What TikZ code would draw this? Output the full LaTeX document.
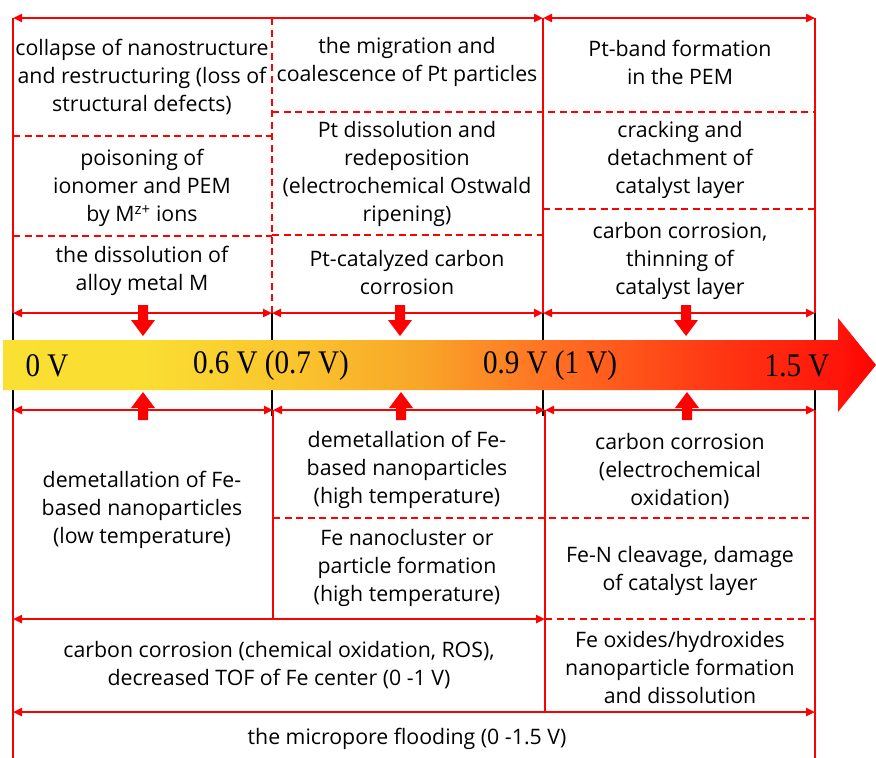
\documentclass[tikz,border=0pt]{standalone}
\usepackage{fontspec}
\setmainfont{Open Sans}
\newfontfamily\voltfont{Liberation Serif}
\usetikzlibrary{arrows.meta}
\definecolor{vA}{RGB}{250,224,50}
\definecolor{vB}{RGB}{250,222,50}
\definecolor{vC}{RGB}{250,195,45}
\definecolor{vD}{RGB}{248,165,40}
\definecolor{vE}{RGB}{255,115,35}
\definecolor{vF}{RGB}{255,60,20}
\definecolor{vG}{RGB}{255,20,10}
\definecolor{vH}{RGB}{255,0,0}
\pgfdeclarehorizontalshading{voltshade}{100bp}{color(0bp)=(vA); color(25bp)=(vA); color(33bp)=(vB); color(42bp)=(vC); color(49bp)=(vD); color(56bp)=(vE); color(65bp)=(vF); color(73bp)=(vG); color(75bp)=(vH); color(100bp)=(vH)}
\tikzset{
  solidred/.style={draw=red, line width=2.6pt},
  dashred/.style={draw=red, line width=1.6pt, dash pattern=on 7pt off 4.5pt},
  dblarrow/.style={draw=red, line width=2.6pt, {Triangle[length=9pt,width=8pt]}-{Triangle[length=9pt,width=8pt]}},
  blacktick/.style={draw=black, line width=1.1pt},
  txt/.style={font=\fontsize{21.3}{28}\selectfont, align=center, inner sep=0pt, text=black},
  volt/.style={font=\voltfont\fontsize{33}{34}\selectfont, inner sep=0pt, text=black, xscale=0.88},
  downblk/.pic={\fill[red] (0,0) -- (-12,-16) -- (-5,-16) -- (-5,-31) -- (5,-31) -- (5,-16) -- (12,-16) -- cycle;},
  upblk/.pic={\fill[red] (0,0) -- (-12,16) -- (-5,16) -- (-5,28) -- (5,28) -- (5,16) -- (12,16) -- cycle;}
}
\begin{document}
\begin{tikzpicture}[x=1pt,y=-1pt]
\useasboundingbox (0,0) rectangle (876,758);
\fill[white] (0,0) rectangle (876,758);

% named grid coordinates
\coordinate (TA) at (13,18);  \coordinate (TB) at (272,18);
\coordinate (TC) at (543,18); \coordinate (TD) at (815,18);
\coordinate (MA) at (13,313); \coordinate (MB) at (272,313);
\coordinate (MC) at (543,313); \coordinate (MD) at (815,313);
\coordinate (NA) at (13,410); \coordinate (NB) at (273,410);
\coordinate (NC) at (545,410); \coordinate (ND) at (815,410);

% black ticks
\foreach \xx in {13,272,543,815} {
  \draw[blacktick] (\xx,313) -- (\xx,342);
  \draw[blacktick] (\xx,388) -- (\xx,416);
}

% ---------- top section ----------
\draw[solidred] (TA) -- (MA);
\draw[solidred] (TC) -- (MC);
\draw[solidred] (TD) -- (MD);
\draw[dashred] (TB) -- (MB);
\draw[dblarrow] (TA) -- (TC);
\draw[dblarrow] (TC) -- (TD);
\draw[dashred] (13,136) -- (272,136);
\draw[dashred] (13,236) -- (272,236);
\draw[dashred] (272,112) -- (815,112);
\draw[dashred] (272,235) -- (543,235);
\draw[dashred] (543,209) -- (815,209);
\draw[dblarrow] (MA) -- (MB);
\draw[dblarrow] (MB) -- (MC);
\draw[dblarrow] (MC) -- (MD);

% ---------- voltage bar ----------
\shade[shading=voltshade] (3,340) -- (838,340) -- (838,318) -- (876,365) -- (838,412) -- (838,390) -- (3,390) -- cycle;
\node[volt] (v0) at (47,366) {0 V};
\node[volt] (v06) at (271,366) {0.6 V (0.7 V)};
\node[volt] (v09) at (550,366) {0.9 V (1 V)};
\node[volt] (v15) at (797,366) {1.5 V};

\pic at (143,336) {downblk};
\pic at (400,336) {downblk};
\pic at (686,336) {downblk};
\pic at (143,392) {upblk};
\pic at (401,392) {upblk};
\pic at (687,392) {upblk};

% ---------- bottom section ----------
\draw[solidred] (NA) -- (13,758);
\draw[solidred] (ND) -- (815,758);
\draw[solidred] (NB) -- (273,619);
\draw[solidred] (NC) -- (545,712);
\draw[dblarrow] (NA) -- (NB);
\draw[dblarrow] (NB) -- (NC);
\draw[dblarrow] (NC) -- (ND);
\draw[dashred] (273,518) -- (815,518);
\draw[dashred] (545,619) -- (815,619);
\draw[dblarrow] (13,619) -- (545,619);
\draw[dblarrow] (13,712) -- (815,712);

% ---------- texts top ----------
\node[txt] (t11) at (142,77) {collapse of nanostructure\\and restructuring (loss of\\structural defects)};
\node[txt] (t12) at (142,188) {poisoning of\\ionomer and PEM\\by M\textsuperscript{z+} ions};
\node[txt] (t13) at (142,271) {the dissolution of\\alloy metal M};
\node[txt] (t21) at (407,62) {the migration and\\coalescence of Pt particles};
\node[txt] (t22) at (407,174) {Pt dissolution and\\redeposition\\(electrochemical Ostwald\\ripening)};
\node[txt] (t23) at (407,273) {Pt-catalyzed carbon\\corrosion};
\node[txt] (t31) at (680,62) {Pt-band formation\\in the PEM};
\node[txt] (t32) at (680,160) {cracking and\\detachment of\\catalyst layer};
\node[txt] (t33) at (680,261) {carbon corrosion,\\thinning of\\catalyst layer};

% ---------- texts bottom ----------
\node[txt] (b11) at (142,510) {demetallation of Fe-\\based nanoparticles\\(low temperature)};
\node[txt] (b21) at (407,470) {demetallation of Fe-\\based nanoparticles\\(high temperature)};
\node[txt] (b22) at (407,568) {Fe nanocluster or\\particle formation\\(high temperature)};
\node[txt] (b31) at (680,471) {carbon corrosion\\(electrochemical\\oxidation)};
\node[txt] (b32) at (680,571) {Fe-N cleavage, damage\\of catalyst layer};
\node[txt] (b33) at (680,668) {Fe oxides/hydroxides\\nanoparticle formation\\and dissolution};
\node[txt] (b4) at (279,665) {carbon corrosion (chemical oxidation, ROS),\\decreased TOF of Fe center (0 -1 V)};
\node[txt] (b5) at (407,739) {the micropore flooding (0 -1.5 V)};
\end{tikzpicture}
\end{document}
